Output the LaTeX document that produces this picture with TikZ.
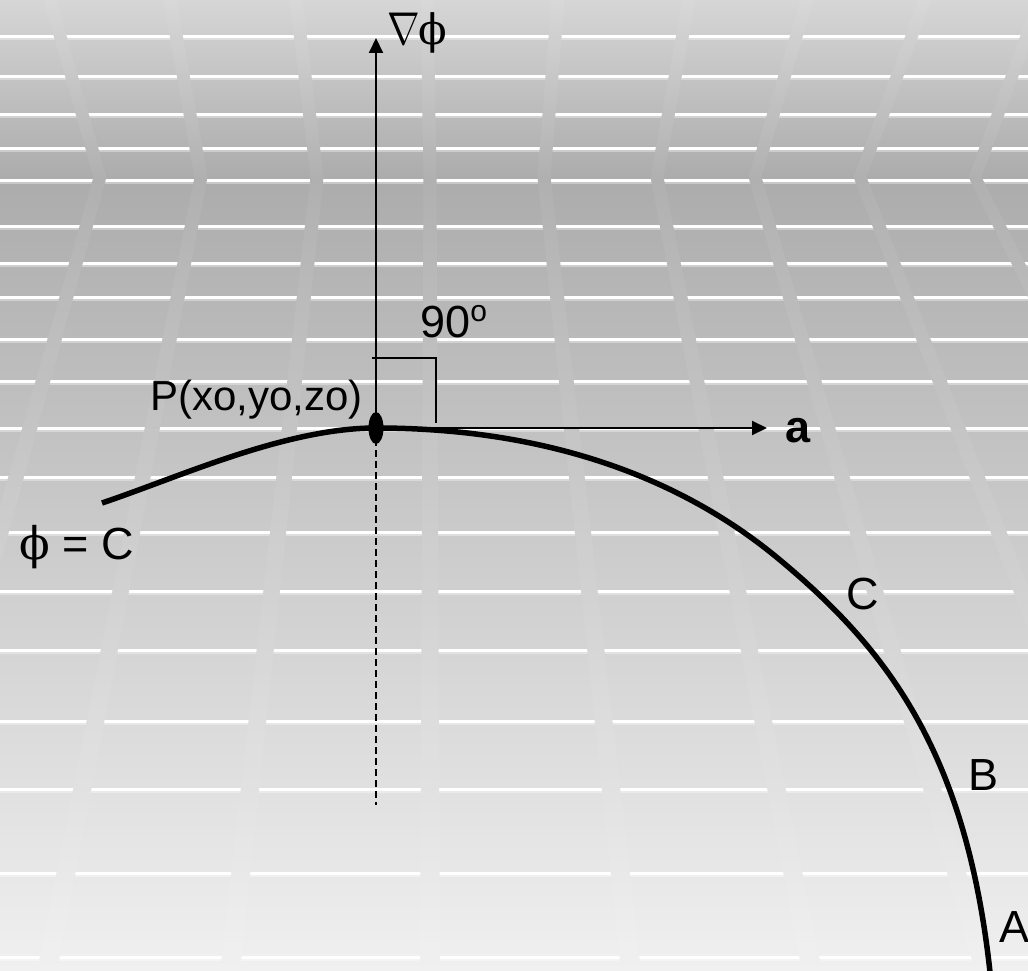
\RequirePackage{fix-cm}
\documentclass[tikz,border=0pt]{standalone}
\usepackage{fontspec}
\setmainfont{Liberation Sans}
\newfontfamily\grkfont{DejaVu Serif}
\usetikzlibrary{arrows.meta}
\definecolor{bgA}{HTML}{D6D6D6}
\definecolor{bgB}{HTML}{ACACAC}
\definecolor{bgC}{HTML}{D0D0D0}
\definecolor{bgD}{HTML}{F0F0F0}
\begin{document}
\begin{tikzpicture}[x=1pt,y=-1pt,
  lbl/.style={inner sep=0pt, font=\fontsize{45}{54}\selectfont},
  vecarrow/.style={line width=2pt, -{Triangle[length=15pt,width=14pt]}},
  thinline/.style={line width=2pt},
  surface/.style={line width=5.5pt},
  dashline/.style={line width=1.5pt, dash pattern=on 7pt off 4pt}]
\useasboundingbox (0,0) rectangle (1028,971);
% background
\shade[top color=bgA, bottom color=bgB] (0,0) rectangle (1028,177.5);
\shade[top color=bgB, middle color=bgC, bottom color=bgD] (0,177) rectangle (1028,971);
\foreach \yy in {37,77,115,149,180,226,263,297,339,381,428,477,532,591,650,721,789,873,957}{
  \draw[white, line width=3pt] (0,\yy) -- (1028,\yy);
  \draw[white, opacity=0.35, line width=2pt] (0,\yy+2.5) -- (1028,\yy+2.5);
}
\def\bandlist{50/100/-122, 170/201/47, 296/317/230, 427/430/430, 558/544/631, 689/657/812, 807/755/985, 925/860/1170, 1040/975/1372}
\begin{scope}
\clip \foreach \t/\k/\b in \bandlist { (\t-6.5,0) -- (\k-6.5,177) -- (\b-10,971) -- (\b+10,971) -- (\k+6.5,177) -- (\t+6.5,0) -- cycle };
\shade[top color=bgA, bottom color=bgB] (0,0) rectangle (1028,177.5);
\shade[top color=bgB, middle color=bgC, bottom color=bgD] (0,177) rectangle (1028,971);
\fill[white, opacity=0.06] (0,0) rectangle (1028,971);
\end{scope}
% coordinates
\coordinate (P) at (376,428);
\coordinate (gradtip) at (376,38);
\coordinate (atip) at (767,428);
\coordinate (dashend) at (376,805);
\coordinate (rtA) at (372,358);
\coordinate (rtB) at (436,358);
\coordinate (rtC) at (436,423);
\coordinate (cL) at (102,503);
\coordinate (cM) at (780,560);
\coordinate (cE) at (990,972);
% surface curve
\draw[surface] (cL) .. controls (182,476) and (286,428) .. (P)
  .. controls (556,428) and (688,483) .. (cM)
  .. controls (887.5,649.6) and (966,752.3) .. (cE);
% vectors
\draw[dashline] (P) -- (dashend);
\draw[vecarrow] (P) -- (gradtip);
\draw[vecarrow] (P) -- (atip);
\draw[thinline] (rtA) -- (rtB) -- (rtC);
\fill (P) ellipse [x radius=7.5pt, y radius=16pt];
% labels
\node[lbl, anchor=base west, font=\fontsize{46}{54}\selectfont] (gradlbl) at (387,45) {\scalebox{0.85}[1]{$\nabla$}\kern-1pt{\grkfont\fontsize{42}{50}\selectfont ϕ}};
\node[lbl, anchor=base west] (phiC) at (19,559) {{\grkfont ϕ} = C};
\node[lbl, anchor=base west, font=\fontsize{42}{50}\selectfont] (Plbl) at (150,410) {P(xo,yo,zo)};
\node[lbl, anchor=base west] (ninety) at (420,337) {90\raisebox{16pt}{\fontsize{30}{32}\selectfont o}};
\node[lbl, anchor=base west, font=\bfseries\fontsize{45}{54}\selectfont] (albl) at (785,442) {a};
\node[lbl, anchor=base west] (Clbl) at (846,609) {C};
\node[lbl, anchor=base west] (Blbl) at (968,790) {B};
\node[lbl, anchor=base west] (Albl) at (999,942) {A};
\end{tikzpicture}
\end{document}
